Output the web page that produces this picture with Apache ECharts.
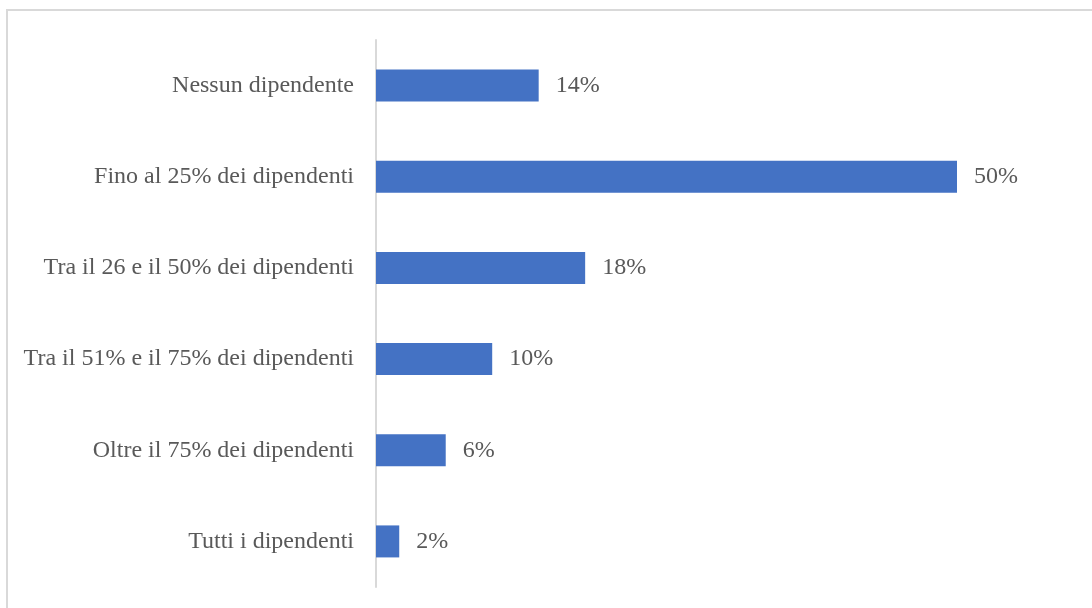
<!DOCTYPE html>
<html>
<head>
<meta charset="utf-8">
<script src="https://cdn.jsdelivr.net/npm/echarts@6/dist/echarts.min.js"></script>
<style>
  html, body { margin: 0; padding: 0; background: #fff; }
  #chart { width: 1092px; height: 608px; }
</style>
</head>
<body>
<div id="chart"></div>
<script>
// Share of employees involved, by category (top to bottom)
const categories = [
  'Nessun dipendente',
  'Fino al 25% dei dipendenti',
  'Tra il 26 e il 50% dei dipendenti',
  'Tra il 51% e il 75% dei dipendenti',
  'Oltre il 75% dei dipendenti',
  'Tutti i dipendenti'
];
const values = [14, 50, 18, 10, 6, 2];

const chart = echarts.init(document.getElementById('chart'));
const font = '"Liberation Serif", "Times New Roman", serif';

chart.setOption({
  animation: false,
  backgroundColor: '#ffffff',
  graphic: [{
    type: 'rect',
    shape: { x: 7, y: 10, width: 1110, height: 640 },
    style: { fill: 'none', stroke: '#d9d9d9', lineWidth: 2 },
    silent: true
  }],
  grid: { left: 376, right: 135, top: 40, bottom: 21 },
  xAxis: {
    type: 'value',
    min: 0,
    max: 50,
    show: false
  },
  yAxis: {
    type: 'category',
    data: categories,
    inverse: true,
    axisLine: { show: true, lineStyle: { color: '#d9d9d9', width: 2 } },
    axisTick: { show: false },
    axisLabel: {
      margin: 22,
      color: '#595959',
      fontFamily: font,
      fontSize: 24
    }
  },
  series: [{
    type: 'bar',
    data: values,
    barWidth: 32,
    itemStyle: { color: '#4472C4' },
    label: {
      show: true,
      position: 'right',
      distance: 17,
      formatter: '{c}%',
      color: '#595959',
      fontFamily: font,
      fontSize: 24
    }
  }]
});
</script>
</body>
</html>
